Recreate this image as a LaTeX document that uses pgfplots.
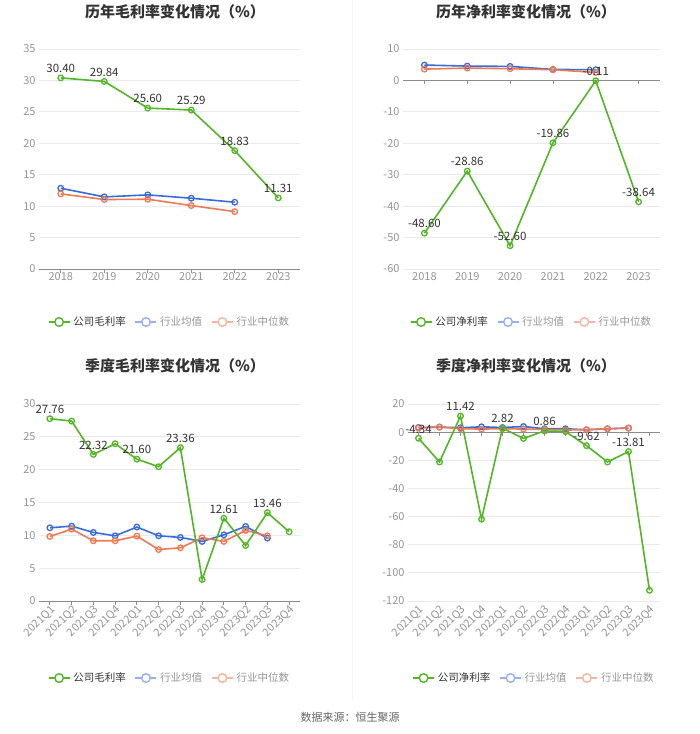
\documentclass[border=0pt]{standalone}
\usepackage{pgfplots}
\pgfplotsset{compat=1.18}
\usepackage{fontspec}
\setmainfont{Noto Sans CJK SC}
\definecolor{cgreen}{RGB}{82,182,38}
\definecolor{cblue}{RGB}{58,108,216}
\definecolor{corange}{RGB}{238,122,84}
\definecolor{lblue}{RGB}{150,176,236}
\definecolor{lorange}{RGB}{245,182,160}
\definecolor{tickgray}{RGB}{150,150,150}
\definecolor{gridgray}{RGB}{232,234,238}
\definecolor{axgray}{RGB}{140,140,140}
\definecolor{txtdark}{RGB}{51,51,51}
\definecolor{divgray}{RGB}{244,244,244}
\definecolor{srcgray}{RGB}{102,102,102}
\pgfplotsset{
  /pgf/number format/assume math mode=true,
  common/.style={
    scale only axis,
    axis line style={draw=none},
    major tick length=0pt,
    ymajorgrids, grid style={gridgray, line width=0.8pt},
    xtick=data,
    tick label style={font=\fontsize{11}{13}\selectfont, text=tickgray},
    yticklabel style={/pgf/number format/fixed},
    legend columns=3,
    legend style={draw=none, fill=none, font=\fontsize{10.5}{12}\selectfont,
      /tikz/every odd column/.append style={column sep=1pt},
      /tikz/every even column/.append style={column sep=7pt}},
    legend cell align=left,
    clip=false,
  },
  comp/.style={cgreen, line width=1.6pt, mark=o, mark size=2.8pt, mark options={fill=white, line width=1.3pt}},
  avg/.style={cblue, line width=1.6pt, mark=o, mark size=2.8pt, mark options={fill=white, line width=1.3pt}},
  med/.style={corange, line width=1.6pt, mark=o, mark size=2.8pt, mark options={fill=white, line width=1.3pt}},
  lbl/.style={only marks, mark=none, nodes near coords={\pgfmathprintnumber[fixed,fixed zerofill,precision=2]{\pgfplotspointmeta}},
    nodes near coords align={anchor=south},
    every node near coord/.append style={font=\fontsize{11.5}{13}\selectfont, text=txtdark, anchor=south, yshift=1.5pt}},
}
\newcommand{\legimg}[2]{\addlegendimage{legend image code/.code={\draw[#1, line width=1.4pt] (0pt,0pt) -- (21pt,0pt); \draw[#2, line width=1.4pt, fill=white] (10.5pt,0pt) circle (4.3pt);}}}
\begin{document}
\begin{tikzpicture}
\path[use as bounding box, fill=white] (0pt,0pt) rectangle (700pt,734pt);
\draw[divgray, line width=0.8pt] (352pt,34pt) -- (352pt,734pt);
% titles
\node[font=\bfseries\fontsize{15}{17}\selectfont, text=txtdark] at (175pt,722pt) {历年毛利率变化情况（\%）};
\node[font=\bfseries\fontsize{15}{17}\selectfont, text=txtdark] at (526pt,722pt) {历年净利率变化情况（\%）};
\node[font=\bfseries\fontsize{15}{17}\selectfont, text=txtdark] at (175pt,368pt) {季度毛利率变化情况（\%）};
\node[font=\bfseries\fontsize{15}{17}\selectfont, text=txtdark] at (526pt,368pt) {季度净利率变化情况（\%）};
\node[font=\fontsize{11}{13}\selectfont, text=srcgray] at (350pt,17pt) {数据来源：恒生聚源};

% Panel 1
\begin{axis}[common, at={(39pt,465pt)}, anchor=south west, width=261pt, height=220pt,
  xmin=-0.5, xmax=5.5, ymin=0, ymax=35, ytick={0,5,...,35},
  xticklabels={2018,2019,2020,2021,2022,2023},
  legend style={at={(0.5,-0.241)}, anchor=center}]
\draw[axgray, line width=0.8pt] (axis cs:-0.5,0) -- (axis cs:5.5,0);
\pgfplotsinvokeforeach{0,...,5}{\draw[axgray, line width=0.8pt] (axis cs:#1,0) -- ([yshift=-4pt]axis cs:#1,0);}
\legimg{cgreen}{cgreen}\addlegendentry{\textcolor{txtdark}{公司毛利率}}
\legimg{lblue}{lblue}\addlegendentry{\textcolor{tickgray}{行业均值}}
\legimg{lorange}{lorange}\addlegendentry{\textcolor{tickgray}{行业中位数}}
\addplot[avg, forget plot] coordinates {(0,12.85) (1,11.47) (2,11.79) (3,11.26) (4,10.62)};
\addplot[med, forget plot] coordinates {(0,11.95) (1,11.05) (2,11.10) (3,10.09) (4,9.13)};
\addplot[comp, forget plot] coordinates {(0,30.40) (1,29.84) (2,25.60) (3,25.29) (4,18.83) (5,11.31)};
\addplot[lbl, forget plot] coordinates {(0,30.40) (1,29.84) (2,25.60) (3,25.29) (4,18.83) (5,11.31)};
\end{axis}

% Panel 2
\begin{axis}[common, at={(403pt,465pt)}, anchor=south west, width=257pt, height=220pt,
  xmin=-0.5, xmax=5.5, ymin=-60, ymax=10, ytick={-60,-50,...,10},
  xticklabels={2018,2019,2020,2021,2022,2023},
  legend style={at={(0.5,-0.241)}, anchor=center}]
\draw[axgray, line width=0.8pt] (axis cs:-0.5,0) -- (axis cs:5.5,0);
\pgfplotsinvokeforeach{0,...,5}{\draw[axgray, line width=0.8pt] (axis cs:#1,0) -- ([yshift=-4pt]axis cs:#1,0);}
\legimg{cgreen}{cgreen}\addlegendentry{\textcolor{txtdark}{公司净利率}}
\legimg{lblue}{lblue}\addlegendentry{\textcolor{tickgray}{行业均值}}
\legimg{lorange}{lorange}\addlegendentry{\textcolor{tickgray}{行业中位数}}
\addplot[avg, forget plot] coordinates {(0,4.89) (1,4.57) (2,4.46) (3,3.5) (4,3.4)};
\addplot[med, forget plot] coordinates {(0,3.6) (1,3.93) (2,3.72) (3,3.4) (4,2.55)};
\addplot[comp, forget plot] coordinates {(0,-48.60) (1,-28.86) (2,-52.60) (3,-19.86) (4,-0.11) (5,-38.64)};
\addplot[lbl, forget plot] coordinates {(0,-48.60) (1,-28.86) (2,-52.60) (3,-19.86) (4,-0.11) (5,-38.64)};
\end{axis}

% Panel 3
\begin{axis}[common, at={(39pt,133pt)}, anchor=south west, width=261pt, height=197pt,
  xmin=-0.5, xmax=11.5, ymin=0, ymax=30, ytick={0,5,...,30},
  xticklabels={2021Q1,2021Q2,2021Q3,2021Q4,2022Q1,2022Q2,2022Q3,2022Q4,2023Q1,2023Q2,2023Q3,2023Q4},
  xticklabel style={rotate=45, anchor=north east, inner sep=2pt},
  legend style={at={(0.5,-0.391)}, anchor=center}]
\draw[axgray, line width=0.8pt] (axis cs:-0.5,0) -- (axis cs:11.5,0);
\pgfplotsinvokeforeach{0,...,11}{\draw[axgray, line width=0.8pt] (axis cs:#1,0) -- ([yshift=-4pt]axis cs:#1,0);}
\legimg{cgreen}{cgreen}\addlegendentry{\textcolor{txtdark}{公司毛利率}}
\legimg{lblue}{lblue}\addlegendentry{\textcolor{tickgray}{行业均值}}
\legimg{lorange}{lorange}\addlegendentry{\textcolor{tickgray}{行业中位数}}
\addplot[avg, forget plot] coordinates {(0,11.15) (1,11.40) (2,10.44) (3,9.93) (4,11.26) (5,9.93) (6,9.68) (7,9.07) (8,10.08) (9,11.36) (10,9.58)};
\addplot[med, forget plot] coordinates {(0,9.83) (1,10.95) (2,9.17) (3,9.17) (4,9.88) (5,7.84) (6,8.10) (7,9.63) (8,9.07) (9,10.75) (10,9.93)};
\addplot[comp, forget plot] coordinates {(0,27.76) (1,27.40) (2,22.32) (3,23.95) (4,21.60) (5,20.45) (6,23.36) (7,3.28) (8,12.61) (9,8.45) (10,13.46) (11,10.55)};
\addplot[lbl, forget plot] coordinates {(0,27.76) (2,22.32) (4,21.60) (6,23.36) (8,12.61) (10,13.46)};
\end{axis}

% Panel 4
\begin{axis}[common, at={(408pt,133pt)}, anchor=south west, width=252pt, height=197pt,
  xmin=-0.5, xmax=11.5, ymin=-120, ymax=20, ytick={-120,-100,...,20},
  xticklabels={2021Q1,2021Q2,2021Q3,2021Q4,2022Q1,2022Q2,2022Q3,2022Q4,2023Q1,2023Q2,2023Q3,2023Q4},
  xticklabel style={rotate=45, anchor=north east, inner sep=2pt},
  legend style={at={(0.5,-0.391)}, anchor=center}]
\draw[axgray, line width=0.8pt] (axis cs:-0.5,0) -- (axis cs:11.5,0);
\pgfplotsinvokeforeach{0,...,11}{\draw[axgray, line width=0.8pt] (axis cs:#1,0) -- ([yshift=-4pt]axis cs:#1,0);}
\legimg{cgreen}{cgreen}\addlegendentry{\textcolor{txtdark}{公司净利率}}
\legimg{lblue}{lblue}\addlegendentry{\textcolor{tickgray}{行业均值}}
\legimg{lorange}{lorange}\addlegendentry{\textcolor{tickgray}{行业中位数}}
\addplot[avg, forget plot] coordinates {(0,3.3) (1,3.6) (2,3.1) (3,3.8) (4,3.3) (5,4.0) (6,2.4) (7,2.4) (8,1.7) (9,2.4) (10,2.9)};
\addplot[med, forget plot] coordinates {(0,2.9) (1,3.6) (2,2.4) (3,2.2) (4,2.4) (5,2.2) (6,1.9) (7,1.5) (8,1.7) (9,2.4) (10,2.9)};
\addplot[comp, forget plot] coordinates {(0,-4.34) (1,-21.2) (2,11.42) (3,-61.8) (4,2.82) (5,-4.5) (6,0.86) (7,0.4) (8,-9.62) (9,-21.2) (10,-13.81) (11,-112.4)};
\addplot[lbl, forget plot] coordinates {(0,-4.34) (2,11.42) (4,2.82) (6,0.86) (8,-9.62) (10,-13.81)};
\end{axis}
\end{tikzpicture}
\end{document}
